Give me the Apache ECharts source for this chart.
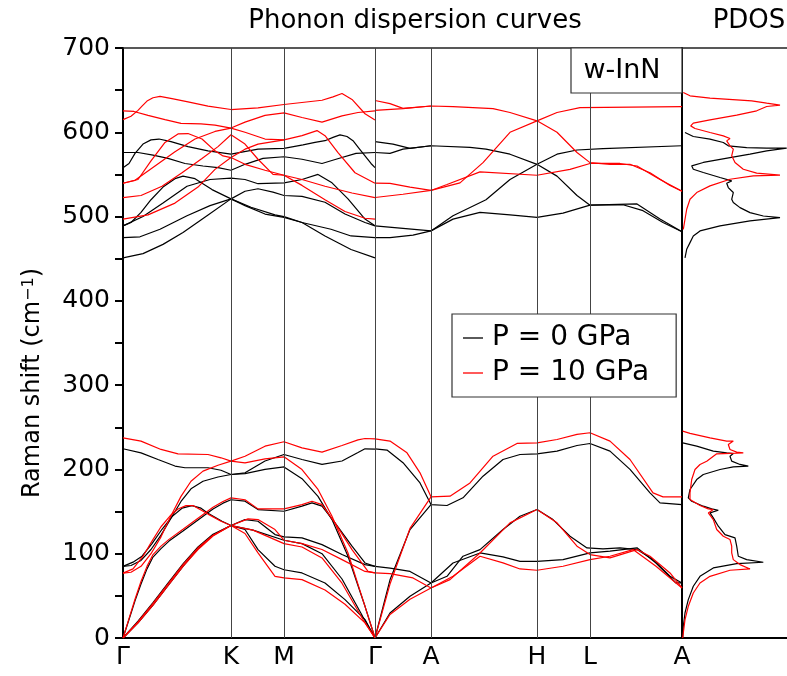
<!DOCTYPE html>
<html><head><meta charset="utf-8">
<script src="https://cdn.jsdelivr.net/npm/echarts@6/dist/echarts.min.js"></script>
<style>html,body{margin:0;padding:0;background:#fff}#c{width:787px;height:676px}</style>
</head><body><div id="c"></div>
<script>
// high-symmetry points (path distance units) and labels
const kPos = [0,108,161,252,308,414,467,559];
const kLab = ['Γ','K','M','Γ','A','H','L','A'];

// ---- P = 0 GPa, optical branches, Γ-K-M-Γ ----
const p0_opt_GKMG = [
 [[0,558],[6,563],[12,575],[20,586],[28,591],[36,592],[48,589],[65,583],[85,578],[108,574],[135,580],[161,581],[180,585],[192,588],[202,590],[210,594],[217,597],[224,595],[230,590],[236,581],[242,572],[248,563],[252,558]],
 [[0,576],[15,576],[30,573],[45,569],[62,563],[80,560],[95,558],[108,555],[122,562],[140,569],[161,571],[179,568],[199,563],[213,568],[233,575],[252,576]],
 [[0,489],[8,493],[18,505],[28,520],[40,535],[52,545],[60,548],[72,545],[89,532],[108,521],[122,530],[135,533],[150,529],[161,525],[179,524],[202,517],[222,503],[242,493],[252,489]],
 [[0,489],[20,500],[40,516],[64,536],[87,544],[108,545.5],[122,544],[135,539],[161,540],[179,544],[195,550],[209,540],[225,521],[242,497],[252,489]],
 [[0,475],[17,476],[37,485],[64,501],[87,513],[108,521],[122,513],[142,503],[161,499],[179,493],[208,485],[228,477],[252,475]],
 [[0,451],[20,456],[40,467],[60,481],[84,501],[108,521],[128,511],[152,502],[161,500],[179,493],[202,477],[228,461],[252,451]]
];
// ---- P = 0 GPa, optical branches, Γ-A-H-L-A ----
const p0_opt_GAHLA = [
 [[252,589],[270,586],[287,581],[308,584],[347,582],[363,580],[387,574],[414,562],[434,548],[454,525],[467,513.5],[500,514],[520,507],[540,493],[559,482]],
 [[252,576],[267,575],[280,580],[308,584]],
 [[308,483],[330,501],[363,520],[387,544],[414,562],[434,574],[454,579],[480,580.5],[559,584]],
 [[252,489],[280,486],[308,483],[330,497],[357,505],[387,502],[414,499],[440,504],[467,513.5],[514,515],[537,497],[559,482]],
 [[252,475],[267,475],[290,478],[308,483]]
];
// ---- P = 10 GPa, optical branches ----
const p10_opt_GKMG = [
 [[0,615],[8,619],[15,626],[19,631],[24,637],[30,641],[37,642.5],[49,640],[65,636],[85,631],[108,627],[135,629],[161,633],[199,638],[210,642],[219,646],[229,639],[242,622],[252,614.7]],
 [[0,625.5],[11,624.7],[25,620],[42,615],[58,610.5],[78,610],[92,608.5],[108,605],[122,612],[142,620],[161,623],[179,617.5],[199,612],[219,619.5],[235,623.5],[252,625.5]],
 [[0,539.5],[15,544],[28,566],[42,588],[55,598],[65,598.5],[79,592],[92,578],[100,572],[108,570],[122,562],[142,555],[161,549],[179,537],[202,520],[222,506],[242,498],[252,497]],
 [[0,539.5],[12,543],[32,560],[52,577],[72,592],[92,601],[108,605],[122,600],[142,592],[161,591],[179,596],[194,602],[202,596],[215,576],[232,552],[252,539.5]],
 [[0,522.5],[18,525],[39,536],[59,552],[79,569],[95,583],[108,597],[122,586],[135,568],[150,550],[161,549],[179,544],[202,536],[229,528],[252,522.5]],
 [[0,497],[25,502],[52,516],[75,535],[92,556],[108,570],[122,580],[135,586],[161,591]]
];
const p10_opt_GAHLA = [
 [[252,637.7],[267,634],[280,628.4],[308,631.2],[330,630.4],[370,628],[387,623.5],[414,613.6],[434,600],[454,576],[467,564],[487,562],[507,562],[527,552],[547,537],[559,530]],
 [[252,626],[280,628],[308,631.2]],
 [[308,531],[337,540],[360,564],[387,600],[414,613.6],[434,623.5],[457,629.3],[559,630.5]],
 [[252,539.6],[267,539.3],[287,535],[308,531],[324,538],[357,553],[414,549],[447,556],[467,563],[497,563],[514,560],[537,544],[559,530]],
 [[252,522.6],[280,526.5],[308,531]]
];
// ---- P = 0 GPa, acoustic + low optical ----
const p0_low_GKMG = [
 [[0,224.5],[18,219.7],[35,211.8],[52,204],[62,202],[85,202],[98,199],[108,194],[122,196],[142,210],[161,217.7],[179,211.8],[199,206],[219,210],[235,220],[242,224.5],[252,224]],
 [[0,85],[8,86],[18,92],[28,105],[38,122],[48,142],[58,162],[68,177],[80,186],[95,191],[108,194],[122,195],[142,200],[161,203],[179,189],[195,168],[209,140.5],[225,97],[242,37.6],[252,0]],
 [[0,0],[6,22],[12,44],[18,64],[24,82],[30,96],[38,106],[46,115],[60,127],[75,140],[90,153],[100,160],[108,164],[122,162.3],[135,152.4],[161,150.4],[179,156.4],[189,160.3],[199,156.4],[212,136.6],[229,108.9],[242,89],[252,85]],
 [[0,85],[10,90],[19,97],[29,112],[39,129],[49,144],[59,154],[69,157],[78,154],[85,148],[99,138.5],[108,133.4],[122,140.5],[135,138.5],[152,122.7],[161,120],[179,118.8],[199,110.8],[219,99],[242,87.1],[252,85]],
 [[0,0],[15,20],[30,42],[45,65],[60,88],[75,108],[90,123],[108,133.4],[122,128.7],[135,104.9],[152,85.1],[161,81],[179,77.2],[202,65.3],[222,45.5],[242,21.8],[252,0]],
 [[0,0],[15,18],[30,39],[45,62],[60,85],[75,106],[90,122],[108,133.4],[130,128],[161,116],[179,112],[199,100],[219,70],[240,25],[252,0]]
];
const p0_low_GAHLA = [
 [[252,224.5],[264,223],[280,208],[297,184],[308,158.3],[324,157.2],[340,166.3],[360,192],[380,211.8],[397,217.7],[414,218.5],[434,221.7],[454,228.4],[467,230.8],[487,221.7],[507,200],[527,172.2],[537,160.3],[559,158.3]],
 [[252,0],[267,69],[287,128.7],[308,158.3]],
 [[252,85],[267,83],[287,79],[308,65.3],[324,73.2],[340,97],[357,104.9],[380,128.7],[397,144.5],[414,152.4],[430,140.5],[447,120.7],[464,106.9],[480,105.7],[497,106.9],[514,104.9],[530,93],[547,73.2],[559,65.3]],
 [[252,0],[267,29.7],[287,49.5],[308,65.3],[330,89],[357,100.9],[380,96.2],[397,91],[414,91],[440,93],[467,101],[487,103],[514,107],[533,89],[553,65.3],[559,65.3]]
];
// ---- P = 10 GPa, acoustic + low optical ----
const p10_low_GKMG = [
 [[0,237.5],[18,233.6],[38,223.7],[55,218.5],[85,217.7],[98,213.8],[108,209.8],[122,215.7],[142,227.6],[161,232.8],[179,225.6],[199,220.5],[219,228.4],[235,235],[242,236.7],[252,236.3]],
 [[0,77],[8,78],[18,85],[28,100],[38,120],[48,145],[58,168],[68,186],[80,198],[95,205],[108,209.8],[122,207.8],[142,212.6],[161,215],[179,199.9],[195,176.2],[209,144.5],[225,100.9],[242,37.6],[252,0]],
 [[0,0],[6,23],[12,46],[18,67],[24,85],[30,99],[38,109],[46,117],[60,129],[75,142],[90,155],[100,162],[108,166.3],[122,164],[135,153.2],[161,153.2],[179,158.3],[189,162.3],[199,158.3],[212,136.6],[229,104.9],[245,79],[252,77.2]],
 [[0,77],[10,82],[20,97],[29,115],[38,132],[48,146],[55,153],[63,157],[70,157.2],[85,147],[98,138.5],[108,133.4],[125,141.3],[135,140.5],[152,128.7],[161,116],[179,112],[199,105],[219,93],[242,79],[252,77.2]],
 [[0,0],[15,19],[30,41],[45,64],[60,87],[75,107],[90,122],[108,133.4],[122,124],[135,101],[152,73.2],[161,71.3],[179,69.3],[202,57],[222,40],[242,18],[252,0]],
 [[0,0],[15,18],[30,39],[45,62],[60,85],[75,105],[90,121],[108,133.4],[130,128],[161,112],[179,108],[199,95],[219,65],[240,22],[252,0]]
];
const p10_low_GAHLA = [
 [[252,236.3],[267,233.6],[284,219.7],[297,196],[308,167.5],[327,168.3],[347,184],[370,215.7],[394,230.8],[414,231.6],[434,235.5],[454,241.5],[467,243.5],[487,233.6],[507,211.8],[530,172.2],[540,167.5],[559,167.5]],
 [[252,0],[267,64],[287,130],[308,167.5]],
 [[252,77.2],[267,76.4],[290,71.3],[308,59.4],[327,69.3],[357,100.9],[387,136.6],[414,152.4],[434,136.6],[454,108.9],[467,99],[487,95],[514,104.9],[527,97],[547,77.2],[559,59.4]],
 [[252,0],[267,28],[287,46],[308,59.4],[330,73.2],[357,97],[380,89.1],[397,81.9],[414,80.4],[440,85.1],[467,93],[487,97],[510,104.9],[533,85.1],[559,59.4]]
];
// ---- PDOS [intensity, frequency] ----
const pdos0_upper = [[3,599.7],[11.3,595],[28,591.8],[41.3,587.9],[46.3,583.9],[64.7,581.9],[84.7,581.1],[104.7,581.1],[84.7,578],[68,574],[48,570],[21.3,564.2],[9.7,560.2],[11.3,556.2],[21.3,552.3],[38,546.3],[49.7,542.4],[44.7,539.6],[46.3,534.4],[51.3,528.5],[49.7,520.5],[51.3,516.6],[58,510.6],[68,504.7],[81.3,500.7],[98,498.8],[68,494.8],[38,488.9],[18,483],[11.3,477],[8,469.1],[4.7,461.2],[3,450.9]];
const pdos10_upper = [[1.3,647.3],[8,643.3],[28,640.5],[54.7,638.5],[69.7,637.3],[84.7,634.5],[98,632.2],[84.7,630.6],[74.7,625.5],[54.7,620.3],[28,614.8],[11.3,610.8],[8.7,607.6],[13,604.5],[28,599.7],[41.3,595.7],[48,592.6],[44.7,589.8],[43,587.9],[48,583.9],[51.3,580],[49.7,572.1],[53,564.2],[61.3,556.2],[74.7,551.5],[98,549.1],[71.3,548.3],[48,544.3],[28,536.4],[14.7,528.5],[8,520.5],[4.7,508.7],[3,496.8],[1.3,484.9]];
const pdos0_lower = [[0.7,231.6],[14.7,227.6],[31.3,221.7],[44.7,219.7],[51.3,218.9],[48,215.7],[49.7,209.8],[58,205.9],[66.3,203.9],[51.3,203.1],[38,199.9],[21.3,194],[14.7,188],[8,176.2],[6.3,166.3],[9.7,162.3],[21.3,156.4],[29.7,153.2],[36.3,151.6],[28,148.4],[31.3,142.5],[36.3,132.6],[43,122.7],[53,118.8],[54.7,108.9],[56.3,97],[64.7,93],[81.3,89.9],[54.7,88.3],[31.3,83.1],[18,73.2],[11.3,61.4],[6.3,45.5],[3,29.7],[1.3,13.8],[0.7,0]];
const pdos10_lower = [[0.7,245.4],[8,242.7],[28,237.5],[44.7,233.6],[51.3,233.6],[46.3,229.6],[48,223.7],[54.7,220.5],[61.3,219.7],[34.7,218.5],[24.7,209.8],[18,205.9],[13,199.9],[9.7,188],[8,172.2],[8,164.3],[18,157.2],[26.3,153.2],[31.3,152.4],[26.3,148.4],[31.3,140.5],[34.7,128.7],[41.3,120.7],[48,116.8],[49.7,108.9],[49.7,101],[51.3,93],[58,87.1],[68,81.9],[48,80.4],[28,73.2],[18,65.3],[11.3,53.4],[6.3,37.6],[3,21.8],[1.3,5.9],[0.7,0]];

const FONT = 'DejaVu Sans';
const BLACK = '#000000', RED = '#ff0000';
const NAME0 = 'P = 0 GPa', NAME10 = 'P = 10 GPa';

const series = [];
function addLines(list, color, name, gi) {
  list.forEach(d => series.push({
    type: 'line', name: name, xAxisIndex: gi === 0 ? 0 : 2, yAxisIndex: gi,
    data: d, showSymbol: false, symbol: 'none', smooth: false,
    lineStyle: { color: color, width: 1.2 }, itemStyle: { color: color },
    silent: true, animation: false, z: 3
  }));
}
addLines(p0_opt_GKMG, BLACK, NAME0, 0);
addLines(p0_opt_GAHLA, BLACK, NAME0, 0);
addLines(p0_low_GKMG, BLACK, NAME0, 0);
addLines(p0_low_GAHLA, BLACK, NAME0, 0);
addLines(p10_opt_GKMG, RED, NAME10, 0);
addLines(p10_opt_GAHLA, RED, NAME10, 0);
addLines(p10_low_GKMG, RED, NAME10, 0);
addLines(p10_low_GAHLA, RED, NAME10, 0);
addLines([pdos0_upper, pdos0_lower], BLACK, NAME0, 1);
addLines([pdos10_upper, pdos10_lower], RED, NAME10, 1);

// vertical lines at interior high-symmetry points
series.push({
  type: 'line', xAxisIndex: 0, yAxisIndex: 0, data: [], silent: true, animation: false, z: 1,
  markLine: {
    silent: true, symbol: 'none', animation: false,
    label: { show: false },
    lineStyle: { color: '#444', width: 1, type: 'solid' },
    data: kPos.slice(1, kPos.length - 1).map(v => ({ xAxis: v }))
  }
});

const chart = echarts.init(document.getElementById('c'), null, { renderer: 'canvas' });
chart.setOption({
  animation: false,
  backgroundColor: '#fff',
  textStyle: { fontFamily: FONT },
  grid: [
    { left: 123, top: 48, width: 559, height: 590 },
    { left: 682, top: 48, width: 105, height: 590 }
  ],
  xAxis: [
    { gridIndex: 0, type: 'value', min: 0, max: 559, position: 'bottom',
      axisLine: { show: true, onZero: false, lineStyle: { color: '#000', width: 2 } },
      axisTick: { show: false }, splitLine: { show: false },
      axisLabel: { customValues: kPos, formatter: v => kLab[kPos.indexOf(v)], fontSize: 25, color: '#000', margin: 7, fontFamily: FONT } },
    { gridIndex: 0, type: 'value', min: 0, max: 559, position: 'top',
      axisLine: { show: true, onZero: false, lineStyle: { color: '#222', width: 1.5 } },
      axisTick: { show: false }, axisLabel: { show: false }, splitLine: { show: false } },
    { gridIndex: 1, type: 'value', min: 0, max: 105, position: 'bottom',
      axisLine: { show: true, onZero: false, lineStyle: { color: '#000', width: 2 } },
      axisTick: { show: false }, axisLabel: { show: false }, splitLine: { show: false } },
    { gridIndex: 1, type: 'value', min: 0, max: 105, position: 'top',
      axisLine: { show: true, onZero: false, lineStyle: { color: '#222', width: 1.5 } },
      axisTick: { show: false }, axisLabel: { show: false }, splitLine: { show: false } }
  ],
  yAxis: [
    { gridIndex: 0, type: 'value', min: 0, max: 700, interval: 100,
      axisLine: { show: true, onZero: false, lineStyle: { color: '#000', width: 2 } },
      axisTick: { show: true, length: 8, lineStyle: { color: '#000', width: 2 } },
      minorTick: { show: true, splitNumber: 2, length: 8, lineStyle: { color: '#000', width: 2 } },
      splitLine: { show: false }, minorSplitLine: { show: false },
      axisLabel: { fontSize: 25, color: '#000', margin: 13, fontFamily: FONT } },
    { gridIndex: 1, type: 'value', min: 0, max: 700, interval: 100,
      axisLine: { show: true, onZero: false, lineStyle: { color: '#000', width: 2 } },
      axisTick: { show: false }, axisLabel: { show: false }, splitLine: { show: false } }
  ],
  legend: {
    data: [NAME0, NAME10], orient: 'vertical', left: 452, top: 314,
    icon: 'rect', itemWidth: 20, itemHeight: 1.3, itemGap: 7,
    padding: [10, 27, 10, 11], selectedMode: false,
    backgroundColor: '#fff', borderColor: '#333', borderWidth: 1.2, borderRadius: 0,
    textStyle: { fontSize: 28, color: '#000', fontFamily: FONT, padding: [0, 0, 0, 4] },
    z: 20
  },
  graphic: [
    { type: 'text', x: 415, y: 21, z: 50, style: { text: 'Phonon dispersion curves', fontSize: 26, fontFamily: FONT, fill: '#000', align: 'center', verticalAlign: 'middle' } },
    { type: 'text', x: 749, y: 21, z: 50, style: { text: 'PDOS', fontSize: 26, fontFamily: FONT, fill: '#000', align: 'center', verticalAlign: 'middle' } },
    { type: 'rect', z: 50, shape: { x: 571, y: 48, width: 111, height: 45 }, style: { fill: '#fff', stroke: '#333', lineWidth: 1.2 } },
    { type: 'text', x: 622, y: 71, z: 51, style: { text: 'w-InN', fontSize: 27, fontFamily: FONT, fill: '#000', align: 'center', verticalAlign: 'middle' } },
    { type: 'text', x: 33, y: 383, rotation: Math.PI / 2, z: 50,
      style: { text: 'Raman shift (cm{sup|−1})', fontSize: 24, fontFamily: FONT, fill: '#000', align: 'center', verticalAlign: 'middle',
        rich: { sup: { fontSize: 16, fontFamily: FONT, fill: '#000', verticalAlign: 'top', padding: [0, 0, 8, 0] } } } }
  ],
  series: series
});
</script>
</body></html>
